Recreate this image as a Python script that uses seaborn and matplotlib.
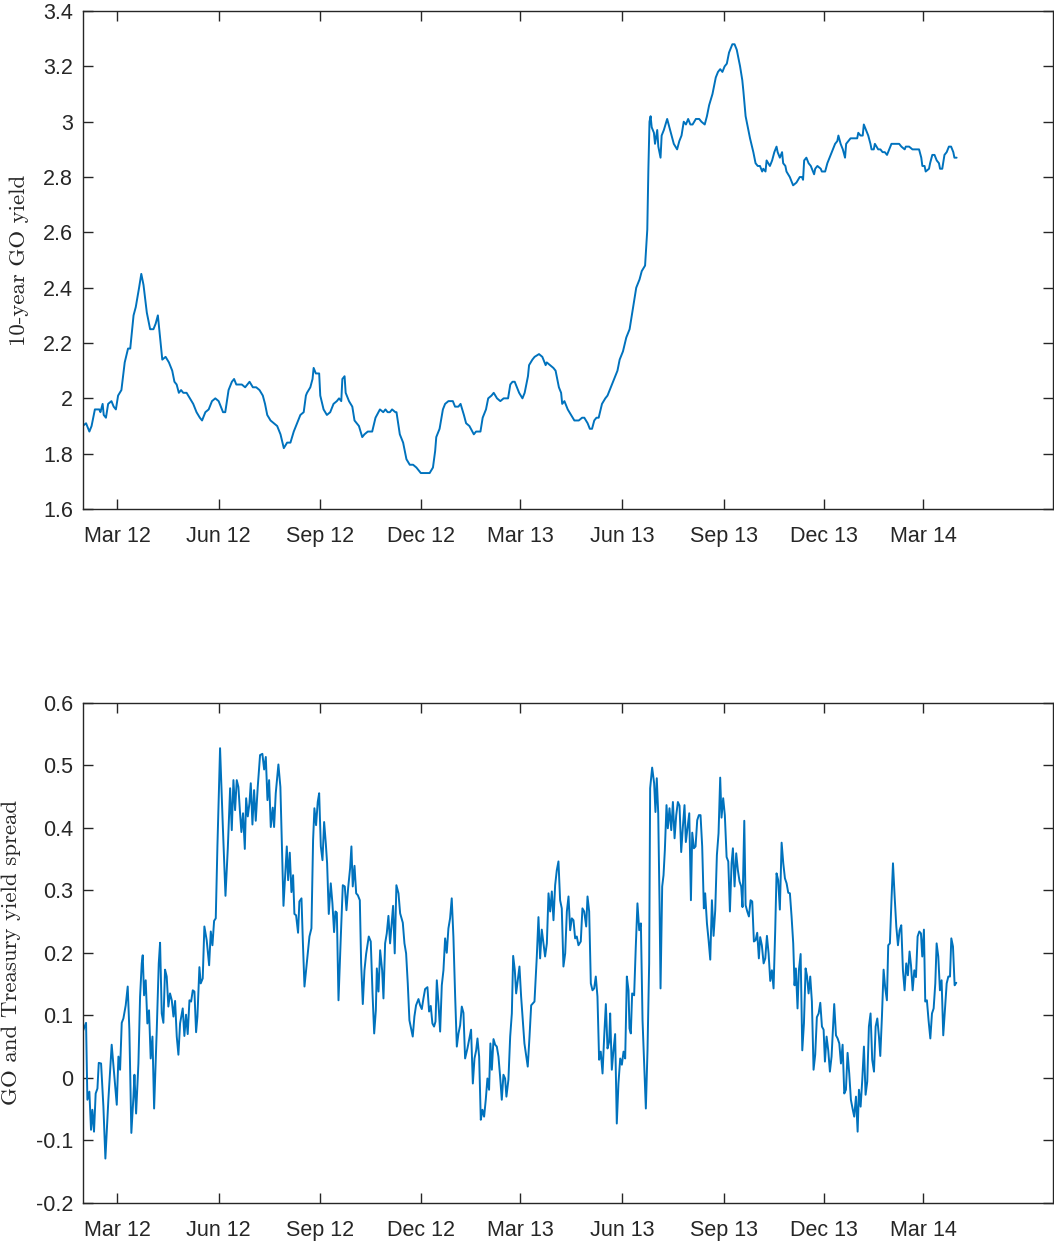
import pandas as pd
import matplotlib
matplotlib.use("Agg")
import matplotlib.pyplot as plt
import matplotlib.dates as mdates
from matplotlib.ticker import FixedLocator, FuncFormatter
import seaborn as sns

# observation dates are stored as day offsets from the first observation
start_date = "2012-01-30"
end_limit = "2014-06-26"

# 10-year GO yield (%)
yield_day = [
    0, 3, 6, 8, 11, 15, 16, 18, 19, 21,
    23, 26, 28, 30, 32, 35, 38, 41, 43, 46,
    48, 51, 53, 55, 58, 61, 64, 66, 68, 70,
    72, 75, 78, 81, 83, 85, 87, 89, 91, 94,
    97, 100, 103, 106, 108, 111, 114, 117, 120, 123,
    125, 127, 129, 132, 135, 137, 139, 142, 144, 147,
    149, 151, 154, 157, 160, 163, 165, 167, 170, 173,
    176, 179, 182, 185, 188, 191, 194, 197, 200, 202,
    203, 206, 208, 209, 211, 214, 215, 218, 221, 224,
    227, 230, 232, 234, 235, 237, 238, 241, 244, 246,
    250, 253, 255, 258, 262, 265, 269,
    272, 274, 276, 278, 280, 283, 284, 287, 290, 293,
    296, 299, 302, 306, 310, 314, 317, 319, 320, 323,
    326, 328, 331, 335, 337, 340, 342, 345, 347, 350,
    354, 356, 360, 362, 365, 367, 370, 372, 375, 378,
    381, 385, 387, 389, 391, 393, 395, 398, 400, 403,
    404, 407, 409, 413, 416, 419, 420, 423, 426, 428,
    431, 433, 434, 436, 439, 442, 445, 449, 452, 454,
    457, 459, 461, 463, 465, 467, 470, 473, 475, 478,
    481, 484, 486, 489, 492, 495,
    501, 504, 506, 509, 511, 512, 513, 514, 515, 517,
    518, 520, 521, 523, 524, 526, 529, 531, 533, 535,
    538, 540, 542, 544, 546, 548, 550, 552, 555, 558,
    560, 563, 565, 567, 570, 573, 575, 577, 579, 581,
    583, 585, 588, 590, 592, 595, 597, 598, 600, 603,
    604, 607, 609, 611, 613, 615, 616, 618, 619, 622,
    624, 626, 628, 629, 631, 633, 634, 636, 637, 640,
    642, 643, 646, 649, 651, 652, 653, 655, 657, 659,
    662, 663, 665, 668, 669, 672, 674, 676, 678, 681,
    683, 684, 686, 688, 690, 691, 693, 695, 698, 701,
    702, 704, 706, 707, 709, 711, 713, 714, 716, 717,
    720, 722, 724, 726, 728, 730, 732, 735, 739, 741,
    744, 745, 748, 751, 754, 757, 759, 760, 762, 763,
    766, 767, 769, 771, 773, 775, 776, 778, 780, 782,
    784, 786, 788, 789, 791,
]
yield_val = [
    1.90, 1.91, 1.88, 1.90, 1.96, 1.96, 1.95, 1.98, 1.94, 1.93,
    1.98, 1.99, 1.97, 1.96, 2.01, 2.03, 2.13, 2.18, 2.18, 2.30,
    2.33, 2.40, 2.45, 2.41, 2.31, 2.25, 2.25, 2.27, 2.30, 2.22,
    2.14, 2.15, 2.13, 2.10, 2.06, 2.05, 2.02, 2.03, 2.02, 2.02,
    2.00, 1.98, 1.95, 1.93, 1.92, 1.95, 1.96, 1.99, 2.00, 1.99,
    1.97, 1.95, 1.95, 2.03, 2.06, 2.07, 2.05, 2.05, 2.05, 2.04,
    2.05, 2.06, 2.04, 2.04, 2.03, 2.01, 1.98, 1.94, 1.92, 1.91,
    1.90, 1.87, 1.82, 1.84, 1.84, 1.88, 1.91, 1.94, 1.95, 2.01,
    2.02, 2.04, 2.07, 2.11, 2.09, 2.09, 2.01, 1.96, 1.94, 1.95,
    1.98, 1.99, 2.00, 1.99, 2.07, 2.08, 2.02, 1.99, 1.97, 1.92,
    1.90, 1.86, 1.87, 1.88, 1.88, 1.93, 1.96,
    1.95, 1.96, 1.95, 1.95, 1.96, 1.95, 1.95, 1.87, 1.84, 1.78,
    1.76, 1.76, 1.75, 1.73, 1.73, 1.73, 1.75, 1.81, 1.86, 1.89,
    1.96, 1.98, 1.99, 1.99, 1.97, 1.97, 1.98, 1.94, 1.91, 1.90,
    1.87, 1.88, 1.88, 1.93, 1.96, 2.00, 2.01, 2.02, 2.00, 1.99,
    2.00, 2.00, 2.05, 2.06, 2.06, 2.04, 2.02, 2.00, 2.02, 2.08,
    2.12, 2.14, 2.15, 2.16, 2.15, 2.12, 2.13, 2.12, 2.11, 2.10,
    2.04, 2.02, 1.98, 1.99, 1.96, 1.94, 1.92, 1.92, 1.93, 1.93,
    1.91, 1.89, 1.89, 1.92, 1.93, 1.93, 1.98, 2.00, 2.01, 2.04,
    2.07, 2.10, 2.14, 2.17, 2.22, 2.25,
    2.40, 2.43, 2.46, 2.48, 2.61, 2.83, 3.00, 3.02, 2.98, 2.96,
    2.92, 2.97, 2.91, 2.87, 2.95, 2.97, 3.01, 2.98, 2.95, 2.92,
    2.90, 2.93, 2.95, 3.00, 2.99, 3.01, 2.99, 2.99, 3.01, 3.01,
    3.00, 2.99, 3.02, 3.06, 3.10, 3.16, 3.18, 3.19, 3.18, 3.20,
    3.21, 3.25, 3.28, 3.28, 3.26, 3.20, 3.15, 3.11, 3.02, 2.96,
    2.94, 2.89, 2.85, 2.84, 2.84, 2.82, 2.83, 2.82, 2.86, 2.84,
    2.86, 2.89, 2.91, 2.89, 2.87, 2.89, 2.85, 2.84, 2.82, 2.80,
    2.78, 2.77, 2.78, 2.80, 2.80, 2.79, 2.86, 2.87, 2.85, 2.84,
    2.81, 2.83, 2.84, 2.83, 2.82, 2.82, 2.85, 2.87, 2.89, 2.92,
    2.93, 2.95, 2.92, 2.90, 2.87, 2.92, 2.93, 2.94, 2.94, 2.94,
    2.96, 2.95, 2.95, 2.99, 2.97, 2.95, 2.92, 2.90, 2.90, 2.92,
    2.90, 2.90, 2.89, 2.89, 2.88, 2.90, 2.92, 2.92, 2.92, 2.91,
    2.90, 2.91, 2.91, 2.90, 2.90, 2.90, 2.87, 2.84, 2.84, 2.82,
    2.83, 2.85, 2.88, 2.88, 2.86, 2.85, 2.83, 2.83, 2.88, 2.89,
    2.91, 2.91, 2.89, 2.87, 2.87,
]

# GO minus Treasury yield spread
spread_day = [
    0, 3.0, 4.2, 6.0, 7.5, 8.7, 10.2, 11.7, 13.3, 14.5,
    16.6, 18.7, 20.5, 23.2, 26.2, 28.4, 30.8, 32.3, 33.8, 35.3,
    36.8, 38.9, 40.7, 42.2, 44.0, 45.9, 46.8, 48.3, 50.4, 51.9,
    53.4, 54.3, 55.5, 57.0, 58.5, 60.0, 61.5, 63.1, 64.6, 67.0,
    68.8, 70.0, 71.5, 73.0, 74.5, 76.0, 77.5, 79.0, 80.6, 82.1,
    83.6, 85.1, 86.6, 88.1, 90.5, 92.0, 93.5, 95.0, 96.6, 98.1,
    99.6, 101.1, 102.6, 103.8, 105.6, 106.8, 108.6, 110.1, 112.2, 114.4,
    115.9, 117.4, 118.9, 120.4, 121.9, 124.3, 126.7, 129.2, 131.3, 133.4,
    134.9, 136.4, 137.9, 139.4, 140.9, 142.4, 143.6, 145.1, 146.7, 147.9,
    149.4, 150.9, 152.1, 153.6, 155.1, 156.6, 158.4, 160.5, 162.6, 164.2,
    165.7, 167.2, 168.7, 170.2, 172.0, 173.2, 174.7, 177.1, 178.9, 181.7,
    183.2, 184.7, 185.9, 187.4, 188.9, 190.4, 191.6, 193.1, 194.9, 196.1,
    198.0, 199.2, 200.7, 202.8, 205.2, 207.0, 208.5, 209.7, 211.2, 212.7,
    214.0, 215.5, 217.0, 218.5, 220.0, 221.2, 222.7, 224.5, 226.0, 227.5,
    228.7, 230.0, 231.5, 233.6, 235.4, 237.2, 238.7, 240.2, 242.0, 243.2,
    244.4, 246.0, 247.5, 249.0, 250.8, 252.0, 253.5, 255.0, 256.5, 258.9,
    260.7, 262.3, 263.8, 265.3, 266.2, 267.7, 269.2,
    271.0, 272.2, 273.7, 275.2, 276.7, 278.2, 279.4, 280.9, 282.4, 283.9,
    285.8, 287.3, 289.7, 291.2, 292.7, 294.2, 295.7, 297.2, 298.7, 300.2,
    301.7, 303.9, 305.4, 306.9, 308.4, 309.9, 312.0, 313.5, 315.0, 316.5,
    318.0, 319.3, 320.5, 322.0, 323.5, 325.0, 326.5, 328.0, 329.5, 331.0,
    332.5, 334.0, 335.5, 337.1, 338.6, 340.1, 341.6, 343.1, 344.6, 346.1,
    348.2, 350.0, 351.5, 353.1, 354.6, 356.1, 357.3, 358.8, 360.3, 361.8,
    363.3, 364.8, 366.3, 367.8, 369.0, 370.3, 371.8, 373.3, 374.8, 376.3,
    377.8, 379.3, 380.8, 382.3, 383.5, 385.3, 386.9, 388.4, 389.6, 391.1,
    392.3, 393.8, 395.3, 396.8, 398.3, 399.8, 401.3, 402.8, 404.4, 405.9,
    407.4, 408.9, 411.0, 412.5, 414.0, 415.5, 417.0, 418.5, 420.1, 421.6,
    423.1, 424.6, 426.1, 427.6, 429.1, 430.6, 432.1, 433.6, 435.1, 436.7,
    438.2, 439.7, 441.2, 442.7, 444.2, 445.7, 447.2, 448.7, 450.8, 452.3,
    453.9, 455.7, 456.9, 458.4, 459.9, 461.4, 462.9, 464.4, 465.9, 467.4,
    468.9, 470.5, 472.0, 473.5, 475.0, 476.5, 477.4, 478.9, 480.4, 481.9,
    483.4, 484.9, 486.5, 488.0, 489.5, 491.0, 492.5, 494.0, 494.9, 496.1,
    497.3, 499.1, 500.6, 502.1, 503.7, 505.2, 506.7, 508.2, 509.7, 511.2,
    512.7, 513.6, 515.4, 517.2, 518.4, 519.6, 520.9, 522.1, 523.0, 524.5,
    525.7, 526.9, 528.4, 529.6, 531.1,
    532.7, 534.2, 535.7, 537.2, 538.7, 540.2, 541.7, 543.2, 544.7, 545.9,
    547.4, 549.0, 550.5, 551.7, 553.2, 554.7, 556.2, 557.7, 559.2, 560.7,
    562.2, 563.4, 565.0, 566.5, 568.0, 569.5, 571.0, 572.5, 574.0, 575.5,
    577.0, 578.2, 579.7, 581.2, 582.8, 584.3, 585.8, 587.3, 588.5, 590.0,
    591.5, 593.0, 594.5, 596.0, 597.2, 598.8, 600.0, 601.5, 603.0, 604.5,
    606.0, 607.5, 609.0, 610.5, 612.0, 613.2, 614.7, 616.3, 617.8, 619.3,
    620.8, 622.3, 623.8, 625.3, 626.8, 628.0, 629.5, 631.0, 632.6, 634.1,
    635.6, 637.1, 638.6, 640.1, 641.6, 643.1, 644.3, 645.5, 647.0, 648.2,
    649.8, 651.3, 652.8, 654.3, 655.5, 657.0, 658.5, 660.0, 661.5, 663.0,
    664.5, 666.1, 667.6, 669.1, 670.6, 671.8, 673.3, 674.8, 676.3, 677.8,
    679.0, 680.2, 681.8, 683.3, 684.8, 686.3, 687.8, 689.3, 690.8, 692.3,
    693.8, 695.3, 696.8, 698.3, 699.9, 701.4, 702.6, 704.1, 705.6, 707.1,
    708.6, 710.1, 711.6, 713.1, 714.6, 716.2, 717.7, 719.2, 720.7, 721.9,
    723.4, 724.9, 726.4, 727.9, 729.1, 730.6, 732.1, 733.4, 734.9, 736.4,
    737.9, 739.4, 740.9, 742.4, 743.9, 745.4, 746.9, 748.4, 749.7, 751.2,
    752.7, 754.2, 755.7, 757.2, 758.7, 759.9, 761.4, 762.6, 764.1, 765.6,
    767.2, 768.7, 770.2, 771.7, 772.9, 774.4, 775.9, 777.4, 778.9, 780.4,
    782.0, 783.5, 785.0, 786.2, 787.7, 789.2, 790.7,
]
spread_val = [
    0.074, 0.088, -0.035, -0.022, -0.083, -0.051, -0.086, -0.025, -0.017, 0.024,
    0.023, -0.046, -0.129, -0.035, 0.053, 0.007, -0.043, 0.034, 0.013, 0.088,
    0.095, 0.116, 0.146, 0.077, -0.088, -0.030, 0.005, -0.057, 0.023, 0.130,
    0.183, 0.196, 0.132, 0.156, 0.087, 0.108, 0.031, 0.066, -0.049, 0.077,
    0.183, 0.216, 0.103, 0.088, 0.173, 0.162, 0.114, 0.135, 0.124, 0.098,
    0.123, 0.066, 0.037, 0.087, 0.111, 0.067, 0.101, 0.070, 0.124, 0.122,
    0.140, 0.138, 0.073, 0.098, 0.177, 0.151, 0.159, 0.242, 0.220, 0.180,
    0.234, 0.212, 0.251, 0.255, 0.370, 0.527, 0.407, 0.291, 0.367, 0.463,
    0.396, 0.476, 0.428, 0.476, 0.465, 0.423, 0.393, 0.423, 0.366, 0.447,
    0.418, 0.439, 0.471, 0.405, 0.460, 0.411, 0.465, 0.516, 0.518, 0.493,
    0.513, 0.444, 0.476, 0.401, 0.432, 0.401, 0.455, 0.501, 0.465, 0.275,
    0.322, 0.370, 0.316, 0.360, 0.297, 0.324, 0.262, 0.260, 0.232, 0.282,
    0.287, 0.220, 0.146, 0.183, 0.226, 0.239, 0.380, 0.431, 0.404, 0.441,
    0.455, 0.370, 0.348, 0.409, 0.375, 0.343, 0.262, 0.311, 0.279, 0.233,
    0.266, 0.264, 0.124, 0.226, 0.308, 0.306, 0.268, 0.303, 0.335, 0.370,
    0.306, 0.339, 0.295, 0.292, 0.284, 0.183, 0.118, 0.172, 0.198, 0.226,
    0.218, 0.135, 0.071, 0.108, 0.175, 0.138, 0.204,
    0.172, 0.127, 0.215, 0.231, 0.259, 0.215, 0.242, 0.275, 0.199, 0.308,
    0.295, 0.263, 0.248, 0.215, 0.199, 0.151, 0.092, 0.079, 0.066, 0.098,
    0.116, 0.126, 0.116, 0.110, 0.127, 0.142, 0.145, 0.106, 0.115, 0.087,
    0.082, 0.090, 0.156, 0.119, 0.074, 0.148, 0.172, 0.223, 0.200, 0.239,
    0.255, 0.287, 0.226, 0.130, 0.050, 0.071, 0.084, 0.114, 0.104, 0.031,
    0.047, 0.063, 0.077, -0.009, 0.031, 0.044, 0.063, 0.034, -0.067, -0.051,
    -0.062, -0.035, -0.001, -0.019, 0.055, 0.013, 0.062, 0.053, 0.050, 0.034,
    0.002, -0.035, 0.005, -0.001, -0.030, -0.003, 0.066, 0.103, 0.195, 0.172,
    0.135, 0.156, 0.178, 0.130, 0.092, 0.055, 0.037, 0.018, 0.066, 0.116,
    0.119, 0.122, 0.194, 0.257, 0.191, 0.237, 0.215, 0.194, 0.215, 0.295,
    0.266, 0.298, 0.252, 0.308, 0.332, 0.346, 0.284, 0.271, 0.178, 0.199,
    0.266, 0.290, 0.236, 0.255, 0.252, 0.223, 0.226, 0.212, 0.218, 0.271,
    0.266, 0.242, 0.290, 0.266, 0.151, 0.140, 0.143, 0.162, 0.130, 0.029,
    0.042, 0.007, 0.066, 0.118, 0.047, 0.058, 0.103, 0.013, 0.044, 0.070,
    -0.073, -0.009, 0.031, 0.021, 0.042, 0.031, 0.162, 0.140, 0.079, 0.071,
    0.135, 0.132, 0.210, 0.279, 0.236, 0.247, 0.092, 0.023, -0.049, 0.044,
    0.183, 0.463, 0.496, 0.471, 0.425, 0.479, 0.423, 0.279, 0.143, 0.306,
    0.324, 0.364, 0.436, 0.399, 0.431,
    0.396, 0.441, 0.383, 0.420, 0.441, 0.435, 0.361, 0.401, 0.436, 0.377,
    0.399, 0.423, 0.284, 0.392, 0.367, 0.370, 0.412, 0.420, 0.420, 0.370,
    0.271, 0.295, 0.247, 0.220, 0.189, 0.284, 0.227, 0.268, 0.356, 0.391,
    0.480, 0.416, 0.447, 0.420, 0.353, 0.346, 0.266, 0.343, 0.367, 0.306,
    0.359, 0.332, 0.314, 0.306, 0.273, 0.411, 0.276, 0.266, 0.258, 0.284,
    0.282, 0.218, 0.220, 0.232, 0.191, 0.225, 0.212, 0.183, 0.191, 0.227,
    0.199, 0.155, 0.172, 0.143, 0.236, 0.327, 0.316, 0.269, 0.376, 0.343,
    0.319, 0.311, 0.296, 0.295, 0.258, 0.215, 0.148, 0.175, 0.111, 0.172,
    0.198, 0.044, 0.087, 0.175, 0.164, 0.135, 0.162, 0.122, 0.013, 0.037,
    0.097, 0.103, 0.120, 0.082, 0.077, 0.026, 0.066, 0.044, 0.010, 0.034,
    0.077, 0.118, 0.068, 0.063, 0.055, 0.023, 0.053, -0.025, -0.019, 0.040,
    0.007, -0.035, -0.049, -0.062, -0.030, -0.086, -0.019, -0.046, -0.003, 0.050,
    -0.027, -0.006, 0.082, 0.103, 0.029, 0.010, 0.082, 0.095, 0.066, 0.035,
    0.098, 0.173, 0.143, 0.124, 0.212, 0.215, 0.287, 0.343, 0.290, 0.242,
    0.212, 0.236, 0.244, 0.172, 0.140, 0.183, 0.164, 0.202, 0.180, 0.140,
    0.172, 0.161, 0.226, 0.234, 0.231, 0.194, 0.237, 0.122, 0.124, 0.092,
    0.063, 0.103, 0.111, 0.151, 0.215, 0.194, 0.140, 0.156, 0.068, 0.108,
    0.151, 0.162, 0.162, 0.223, 0.210, 0.148, 0.152,
]

tick_dates = ["2012-03-01", "2012-06-01", "2012-09-01", "2012-12-01", "2013-03-01",
              "2013-06-01", "2013-09-01", "2013-12-01", "2014-03-01"]
yield_ticks = [1.6, 1.8, 2.0, 2.2, 2.4, 2.6, 2.8, 3.0, 3.2, 3.4]
spread_ticks = [-0.2, -0.1, 0.0, 0.1, 0.2, 0.3, 0.4, 0.5, 0.6]

assert len(yield_day) == len(yield_val)
assert len(spread_day) == len(spread_val)

sns.set_style("ticks")
plt.rcParams["font.family"] = ["Liberation Sans", "DejaVu Sans"]

line_color = "#0072BD"
axis_color = "#262626"

t0 = pd.Timestamp(start_date)
yield_df = pd.DataFrame({"date": t0 + pd.to_timedelta(yield_day, unit="D"), "value": yield_val})
spread_df = pd.DataFrame({"date": t0 + pd.to_timedelta(spread_day, unit="D"), "value": spread_val})

fig = plt.figure(figsize=(10.54, 12.43), dpi=100)
ax_top = fig.add_axes([0.0785, 0.5905, 0.9203, 0.4006])
ax_bot = fig.add_axes([0.0785, 0.0322, 0.9203, 0.4026])

panels = [
    (ax_top, yield_df, yield_ticks, "10-year GO yield", -0.0557),
    (ax_bot, spread_df, spread_ticks, "GO and Treasury yield spread", -0.064),
]

for ax, df, yt, label, lab_x in panels:
    sns.lineplot(data=df, x="date", y="value", ax=ax, color=line_color,
                 linewidth=1.4, estimator=None)
    ax.set_xlim(t0, pd.Timestamp(end_limit))
    ax.set_ylim(yt[0], yt[-1])
    ax.yaxis.set_major_locator(FixedLocator(yt))
    ax.yaxis.set_major_formatter(FuncFormatter(lambda v, p: f"{v:g}"))
    ax.xaxis.set_major_locator(FixedLocator(mdates.date2num(pd.to_datetime(tick_dates))))
    ax.xaxis.set_major_formatter(mdates.DateFormatter("%b %y"))
    ax.tick_params(axis="both", direction="in", length=7, width=1,
                   top=True, right=True, colors=axis_color, labelsize=15.5)
    ax.tick_params(axis="y", pad=7)
    ax.tick_params(axis="x", pad=12)
    ax.set_xlabel("")
    ax.set_ylabel(label, fontfamily="cmr10", fontsize=16.5, color=axis_color)
    ax.yaxis.set_label_coords(lab_x, 0.5)
    for spine in ax.spines.values():
        spine.set_color(axis_color)
        spine.set_linewidth(1.0)

fig.savefig("out.png", dpi=100)
